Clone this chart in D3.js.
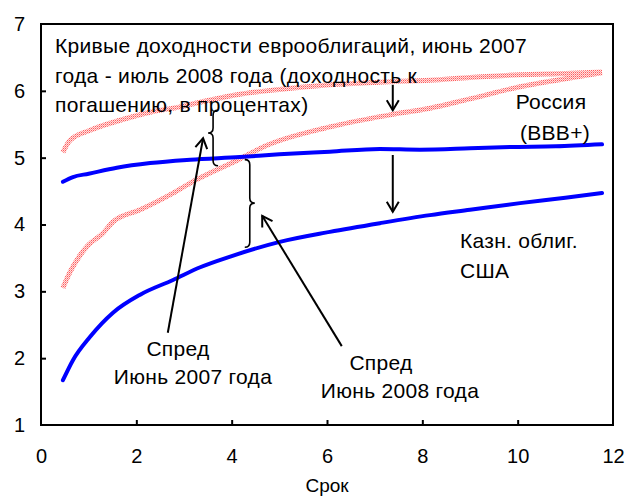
<!DOCTYPE html>
<html>
<head>
<meta charset="utf-8">
<title>Кривые доходности</title>
<script src="https://cdn.jsdelivr.net/npm/d3@7"></script>
<style>
body { margin: 0; background: #fff; }
text { font-family: "Liberation Sans", Arial, sans-serif; fill: #000; }
</style>
</head>
<body>
<div id="chart"></div>
<script>
// maturities (years) and yields
var rusX    = [0.46, 0.67, 1.0, 1.59, 2.29, 3.13, 4.17, 5.0, 6.06, 7.11, 7.95, 9.0, 9.84, 10.8, 11.77];
var rusY    = [4.64, 4.71, 4.76, 4.85, 4.92, 4.97, 5.01, 5.05, 5.09, 5.13, 5.12, 5.14, 5.16, 5.17, 5.2];
var usX     = [0.46, 0.67, 1.03, 1.51, 2.08, 2.77, 3.34, 3.97, 5.01, 6.06, 7.11, 8.16, 9.0, 10.05, 11.0, 11.77];
var usY     = [1.67, 1.97, 2.32, 2.68, 2.95, 3.17, 3.36, 3.52, 3.74, 3.89, 4.02, 4.14, 4.22, 4.32, 4.4, 4.47];
var redTopX = [0.46, 0.61, 1.03, 1.66, 2.29, 2.92, 3.34, 4.17, 5.0, 6.06, 7.1, 8.16, 9.0, 10.05, 11.0, 11.77];
var redTopY = [5.08, 5.26, 5.41, 5.56, 5.68, 5.76, 5.83, 5.95, 6.02, 6.09, 6.13, 6.16, 6.2, 6.24, 6.26, 6.28];
var redLowX = [0.46, 0.61, 0.82, 0.99, 1.3, 1.51, 2.08, 2.77, 3.13, 4.17, 4.66, 6.06, 7.32, 8.16, 9.0, 10.05, 11.0, 11.77];
var redLowY = [3.05, 3.29, 3.54, 3.69, 3.87, 4.04, 4.22, 4.47, 4.62, 4.98, 5.16, 5.46, 5.64, 5.74, 5.88, 6.06, 6.18, 6.27];
var xTicks = [0, 2, 4, 6, 8, 10, 12];
var yTicks = [1, 2, 3, 4, 5, 6, 7];

var svgWidth = 629, svgHeight = 497;
var margin = {top: 24, right: 16, bottom: 72, left: 41};
var width = svgWidth - margin.left - margin.right,
    height = svgHeight - margin.top - margin.bottom;

var x = d3.scaleLinear().domain([0, 12]).range([0, width]);
var y = d3.scaleLinear().domain([1, 7]).range([height, 0]);

var svg = d3.select("#chart").append("svg")
    .attr("width", svgWidth)
    .attr("height", svgHeight);

var defs = svg.append("defs");
var pat = defs.append("pattern")
    .attr("id", "hatch")
    .attr("patternUnits", "userSpaceOnUse")
    .attr("width", 2).attr("height", 2);
pat.append("rect").attr("width", 2).attr("height", 2).attr("fill", "#ffe0e0");
pat.append("rect").attr("width", 1).attr("height", 1).attr("fill", "#ff5c5c");
pat.append("rect").attr("x", 1).attr("y", 1).attr("width", 1).attr("height", 1).attr("fill", "#ff9a9a");

defs.append("marker")
    .attr("id", "head")
    .attr("markerUnits", "userSpaceOnUse")
    .attr("viewBox", "-12 -8 14 16")
    .attr("markerWidth", 14).attr("markerHeight", 16)
    .attr("refX", 0).attr("refY", 0)
    .attr("orient", "auto")
  .append("path")
    .attr("d", "M-10,-6L0,0L-10,6")
    .attr("fill", "none")
    .attr("stroke", "#000")
    .attr("stroke-width", 2);

var g = svg.append("g")
    .attr("transform", "translate(" + margin.left + "," + margin.top + ")");

// frame
g.append("rect")
    .attr("width", width).attr("height", height)
    .attr("fill", "none").attr("stroke", "#000").attr("stroke-width", 2);

// axes, ticks inside
var xAxis = g.append("g")
    .attr("transform", "translate(0," + height + ")")
    .call(d3.axisBottom(x).tickValues(xTicks).tickFormat(d3.format("d"))
        .tickSizeInner(-5).tickSizeOuter(0).tickPadding(24));
var yAxis = g.append("g")
    .call(d3.axisLeft(y).tickValues(yTicks).tickFormat(d3.format("d"))
        .tickSizeInner(-5).tickSizeOuter(0).tickPadding(16));
[xAxis, yAxis].forEach(function(a) {
    a.select(".domain").remove();
    a.selectAll("line").attr("stroke", "#000").attr("stroke-width", 2);
    a.selectAll("text").attr("font-size", "20px").attr("font-family", "Liberation Sans, Arial, sans-serif");
});
xAxis.selectAll("line").filter(function(d) { return d === 0 || d === 12; }).remove();
yAxis.selectAll("line").filter(function(d) { return d === 1 || d === 7; }).remove();

g.append("text")
    .attr("x", width / 2).attr("y", height + 67)
    .attr("text-anchor", "middle")
    .attr("font-size", "19px")
    .text("Срок");

// curves
var line = d3.line()
    .x(function(d) { return x(d[0]); })
    .y(function(d) { return y(d[1]); })
    .curve(d3.curveMonotoneX);

function pairs(xs, ys) { return xs.map(function(v, i) { return [v, ys[i]]; }); }

[[redTopX, redTopY], [redLowX, redLowY]].forEach(function(s) {
    g.append("path")
        .datum(pairs(s[0], s[1]))
        .attr("d", line)
        .attr("fill", "none")
        .attr("stroke", "url(#hatch)")
        .attr("stroke-width", 5);
});
[[rusX, rusY], [usX, usY]].forEach(function(s) {
    g.append("path")
        .datum(pairs(s[0], s[1]))
        .attr("d", line)
        .attr("fill", "none")
        .attr("stroke", "#0000ff")
        .attr("stroke-width", 4)
        .attr("stroke-linecap", "round");
});

// arrows
var arrows = [
    [[2.66, 2.38], [3.40, 5.29]],
    [[6.31, 2.18], [4.64, 4.13]],
    [[7.38, 6.09], [7.38, 5.71]],
    [[7.38, 5.04], [7.38, 4.19]]
];
g.selectAll(".arrow")
    .data(arrows)
    .enter().append("line")
    .attr("class", "arrow")
    .attr("x1", function(d) { return x(d[0][0]); })
    .attr("y1", function(d) { return y(d[0][1]); })
    .attr("x2", function(d) { return x(d[1][0]); })
    .attr("y2", function(d) { return y(d[1][1]); })
    .attr("stroke", "#000")
    .attr("stroke-width", 2)
    .attr("marker-end", "url(#head)");

// braces: x, top, middle, bottom, direction of point
function brace(bx, top, mid, bot, dir) {
    var X = x(bx), t = y(top), m = y(mid), b = y(bot), k = 5 * dir;
    return "M" + (X - k) + "," + t +
        "Q" + X + "," + t + " " + X + "," + (t + 5) +
        "L" + X + "," + (m - 5) +
        "Q" + X + "," + m + " " + (X + k) + "," + m +
        "Q" + X + "," + m + " " + X + "," + (m + 5) +
        "L" + X + "," + (b - 5) +
        "Q" + X + "," + b + " " + (X - k) + "," + b;
}
g.append("path")
    .attr("d", brace(3.61, 5.71, 5.37, 4.88, -1))
    .attr("fill", "none").attr("stroke", "#000").attr("stroke-width", 1.6);
g.append("path")
    .attr("d", brace(4.38, 4.97, 4.32, 3.66, 1))
    .attr("fill", "none").attr("stroke", "#000").attr("stroke-width", 1.6);

// labels (page coordinates)
var labels = [
    {t: "Кривые доходности еврооблигаций, июнь 2007", x: 55, y: 53, a: "start"},
    {t: "года - июль 2008 года (доходность к", x: 55, y: 83, a: "start"},
    {t: "погашению, в процентах)", x: 55, y: 112, a: "start"},
    {t: "Россия", x: 551, y: 109, a: "middle"},
    {t: "(BBB+)", x: 555, y: 140, a: "middle"},
    {t: "Казн. облиг.", x: 460, y: 248, a: "start"},
    {t: "США", x: 460, y: 278, a: "start"},
    {t: "Спред", x: 178, y: 356, a: "middle"},
    {t: "Июнь 2007 года", x: 193, y: 384, a: "middle"},
    {t: "Спред", x: 381, y: 370, a: "middle"},
    {t: "Июнь 2008 года", x: 400, y: 398, a: "middle"}
];
svg.selectAll(".lbl")
    .data(labels)
    .enter().append("text")
    .attr("class", "lbl")
    .attr("x", function(d) { return d.x; })
    .attr("y", function(d) { return d.y; })
    .attr("text-anchor", function(d) { return d.a; })
    .attr("font-size", "21px")
    .attr("letter-spacing", "0.3px")
    .text(function(d) { return d.t; });
</script>
</body>
</html>
